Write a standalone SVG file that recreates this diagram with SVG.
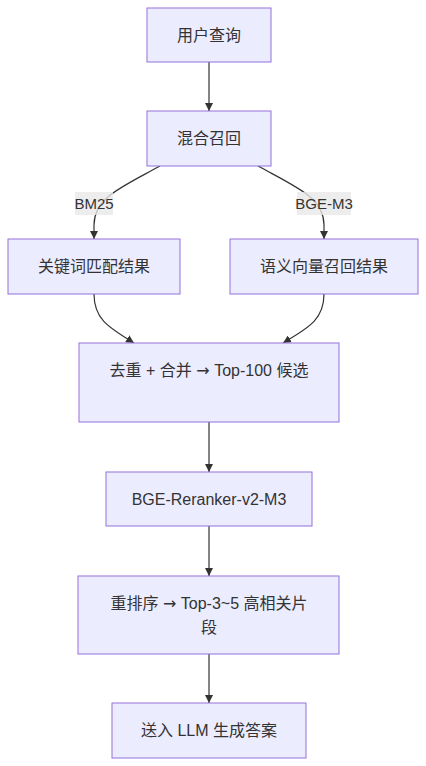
<svg xmlns="http://www.w3.org/2000/svg" width="426" height="766" viewBox="0 0 426 766">
<style>
.node rect{fill:#ECECFF;stroke:#9370DB;stroke-width:1px}
.node text{font-family:"Liberation Sans","Noto Sans CJK SC",sans-serif;font-size:16px;fill:#333;text-anchor:middle;dominant-baseline:central}
.ar{font-family:"DejaVu Sans",sans-serif}
.edge{fill:none;stroke:#333;stroke-width:1.2px}
.lbl rect{fill:#e8e8e8;fill-opacity:0.8}
.lbl text{font-family:"Liberation Sans","Noto Sans CJK SC",sans-serif;font-size:15px;fill:#333;text-anchor:middle;dominant-baseline:central}
</style>
<defs>
<marker id="arr" viewBox="0 0 10 10" refX="10" refY="5" markerUnits="userSpaceOnUse" markerWidth="8" markerHeight="8" orient="auto">
<path d="M0,0 L10,5 L0,10 z" fill="#333"/>
</marker>
</defs>
<g id="connectors">
<path class="edge" d="M209,62 L209,111" marker-end="url(#arr)"/>
<path class="edge" d="M160,166 C120,188 94,198 94,225 L94,239" marker-end="url(#arr)"/>
<path class="edge" d="M258,166 C298,188 324,198 324,225 L324,239" marker-end="url(#arr)"/>
<path class="edge" d="M94,294 C94,320 110,328 134,343" marker-end="url(#arr)"/>
<path class="edge" d="M324,294 C324,320 308,328 283,343" marker-end="url(#arr)"/>
<path class="edge" d="M209,422 L209,472" marker-end="url(#arr)"/>
<path class="edge" d="M209,526 L209,576" marker-end="url(#arr)"/>
<path class="edge" d="M209,654 L209,703" marker-end="url(#arr)"/>
<g class="lbl"><rect x="75" y="192" width="38" height="23"/><text x="94" y="203.5">BM25</text></g>
<g class="lbl"><rect x="297" y="192" width="54" height="23"/><text x="324" y="203.5">BGE-M3</text></g>
</g>
<g id="n1" class="node"><rect x="147" y="8" width="124" height="54"/><text x="209" y="35">用户查询</text></g>
<g id="n2" class="node"><rect x="147" y="111" width="124" height="55"/><text x="209" y="138.5">混合召回</text></g>
<g id="n3" class="node"><rect x="8" y="239" width="172" height="55"/><text x="94" y="266.5">关键词匹配结果</text></g>
<g id="n4" class="node"><rect x="230" y="239" width="188" height="55"/><text x="324" y="266.5">语义向量召回结果</text></g>
<g id="n5" class="node"><rect x="79" y="343" width="260" height="79"/><text x="209" y="370">去重 + 合并 <tspan class="ar">→</tspan> Top-100 候选</text></g>
<g id="n6" class="node"><rect x="106" y="472" width="206" height="54"/><text x="209" y="499">BGE-Reranker-v2-M3</text></g>
<g id="n7" class="node"><rect x="78" y="576" width="261" height="78"/><text x="209" y="603">重排序 <tspan class="ar">→</tspan> Top-3~5 高相关片</text><text x="209" y="627">段</text></g>
<g id="n8" class="node"><rect x="112" y="703" width="194" height="55"/><text x="209" y="730.5">送入 LLM 生成答案</text></g>
</svg>
